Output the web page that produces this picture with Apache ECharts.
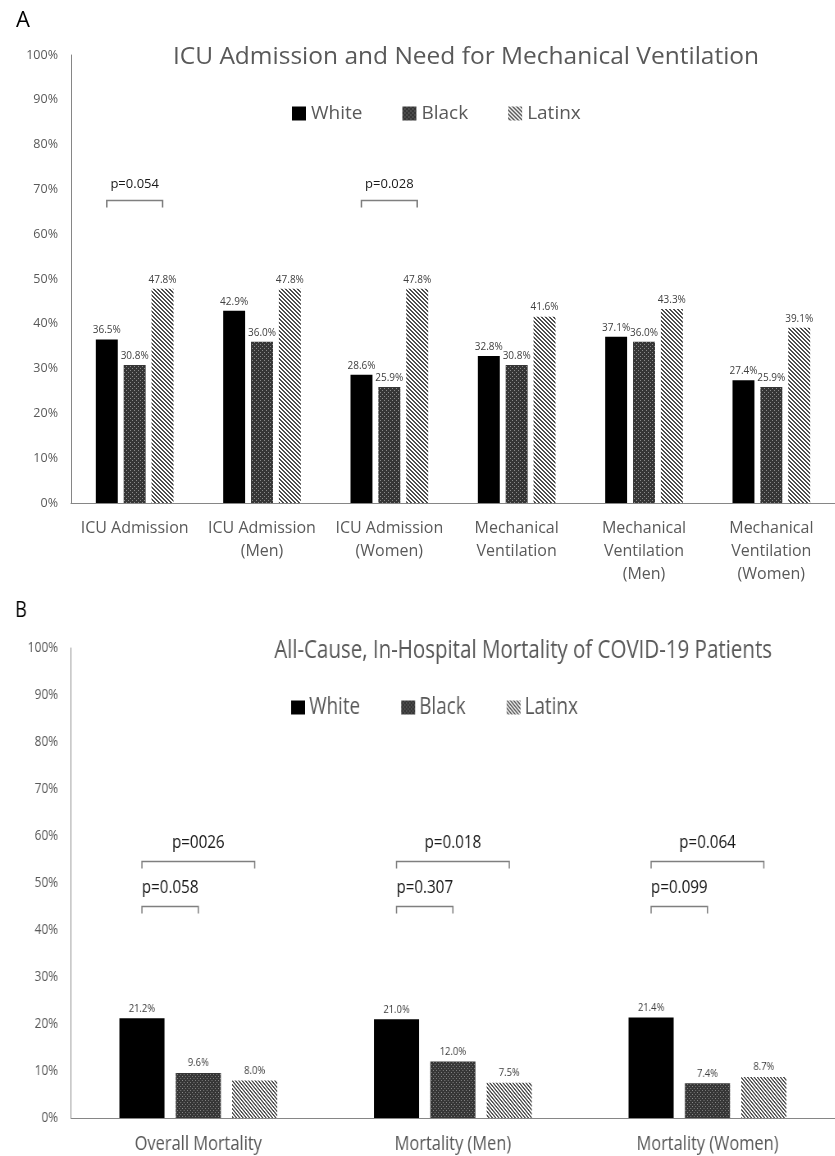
<!DOCTYPE html>
<html>
<head>
<meta charset="utf-8">
<script src="https://cdn.jsdelivr.net/npm/echarts@6/dist/echarts.min.js"></script>
<style>
html,body{margin:0;padding:0;background:#fff;overflow:hidden;}
#wrap{position:relative;width:835px;height:1156px;overflow:hidden;}
#chartA{position:absolute;left:0;top:0;width:835px;height:590px;}
#chartB{position:absolute;left:0;top:590px;height:566px;transform-origin:0 0;}
</style>
</head>
<body>
<div id="wrap">
  <div id="chartA"></div>
  <div id="chartB"></div>
</div>
<script>
// ---------- data ----------
const seriesNames = ['White', 'Black', 'Latinx'];

const categoriesA = ['ICU Admission', 'ICU Admission\n(Men)', 'ICU Admission\n(Women)', 'Mechanical\nVentilation', 'Mechanical\nVentilation\n(Men)', 'Mechanical\nVentilation\n(Women)'];
const whiteA  = [36.5, 42.9, 28.6, 32.8, 37.1, 27.4];
const blackA  = [30.8, 36.0, 25.9, 30.8, 36.0, 25.9];
const latinxA = [47.8, 47.8, 47.8, 41.6, 43.3, 39.1];

const categoriesB = ['Overall Mortality', 'Mortality (Men)', 'Mortality (Women)'];
const whiteB  = [21.2, 21.0, 21.4];
const blackB  = [9.6, 12.0, 7.4];
const latinxB = [8.0, 7.5, 8.7];

const yMin = 0, yMax = 100, yInterval = 10;

// brackets: [category index, from bar, to bar, bracket level (%), text level (%), text]
const bracketsA = [
  [0, 0, 2, 67.6, 71.2, 'p=0.054'],
  [2, 0, 2, 67.6, 71.2, 'p=0.028']
];
const bracketsB = [
  [0, 0, 2, 54.7, 58.5, 'p=0026'],
  [0, 0, 1, 45.1, 49.0, 'p=0.058'],
  [1, 0, 2, 54.7, 58.5, 'p=0.018'],
  [1, 0, 1, 45.1, 49.0, 'p=0.307'],
  [2, 0, 2, 54.7, 58.5, 'p=0.064'],
  [2, 0, 1, 45.1, 49.0, 'p=0.099']
];

// ---------- styles ----------
const font = "'Open Sans', 'Noto Sans', sans-serif";
const gray = '#595959';
const squeezeB = 0.82;               // panel B is horizontally condensed in the original
const elB = document.getElementById('chartB');
elB.style.width = (835 / squeezeB) + 'px';
elB.style.transform = 'scaleX(' + squeezeB + ')';
const sx = v => v / squeezeB;        // panel-B horizontal offsets, pre-squeeze

function dotsPattern() {
  const c = document.createElement('canvas');
  c.width = 4; c.height = 4;
  const g = c.getContext('2d');
  g.fillStyle = '#363636'; g.fillRect(0, 0, 4, 4);
  g.fillStyle = '#8a8a8a';
  g.fillRect(0, 0, 1, 1);
  g.fillRect(2, 2, 1, 1);
  return c;
}
function stripePattern() {
  const c = document.createElement('canvas');
  c.width = 4; c.height = 4;
  const g = c.getContext('2d');
  g.fillStyle = '#ffffff'; g.fillRect(0, 0, 4, 4);
  g.fillStyle = '#4d4d4d';
  for (let y = 0; y < 4; y++) {
    for (let x = 0; x < 4; x++) {
      const d = ((x - y) % 4 + 4) % 4;
      if (d === 0 || d === 1) g.fillRect(x, y, 1, 1);
    }
  }
  return c;
}
const fills = [
  '#000000',
  { image: dotsPattern(), repeat: 'repeat' },
  { image: stripePattern(), repeat: 'repeat' }
];

const gapA = { cat: 0.39, bar: 0.27 };
const gapB = { cat: 0.38, bar: 0.25 };

function barSeries(name, data, idx, gaps, labelSize) {
  return {
    type: 'bar', name: name, data: data,
    barGap: (gaps.bar * 100) + '%', barCategoryGap: (gaps.cat * 100) + '%',
    itemStyle: { color: fills[idx] },
    label: {
      show: true, position: 'top', distance: 4,
      formatter: p => p.value.toFixed(1) + '%',
      fontSize: labelSize, fontFamily: font, color: '#404040'
    },
    emphasis: { disabled: true }
  };
}

function bracketSeries(list, gaps, fontSize, tick) {
  return {
    type: 'custom',
    data: list.map(b => [b[0], b[1], b[2], b[3], b[4]]),
    encode: { x: 0, y: 3 },
    silent: true, z: 5,
    renderItem: function (params, api) {
      const b = list[params.dataIndex];
      const cat = api.value(0);
      const base = api.coord([cat, api.value(3)]);
      const yT = api.coord([cat, api.value(4)])[1];
      const band = api.size([1, 0])[0];
      const w = band * (1 - gaps.cat) / (3 + 2 * gaps.bar);
      const step = w * (1 + gaps.bar);
      const first = base[0] - (3 * w + 2 * gaps.bar * w) / 2 + w / 2;
      const xa = first + api.value(1) * step;
      const xb = first + api.value(2) * step;
      const y = Math.round(base[1]) + 0.5;
      return {
        type: 'group',
        children: [
          { type: 'polyline',
            shape: { points: [[xa, y + tick], [xa, y], [xb, y], [xb, y + tick]] },
            style: { stroke: '#7f7f7f', lineWidth: 1.5, fill: null } },
          { type: 'text',
            style: { text: b[5], x: (xa + xb) / 2, y: yT, align: 'center', verticalAlign: 'middle',
                     fontSize: fontSize, fontFamily: font, fill: '#1a1a1a' } }
        ]
      };
    }
  };
}

function yAxis(size, margin) {
  return {
    type: 'value', min: yMin, max: yMax, interval: yInterval,
    axisLine: { show: true, lineStyle: { color: '#868686', width: 1 } },
    axisTick: { show: false }, splitLine: { show: false },
    axisLabel: { formatter: '{value}%', fontSize: size, fontFamily: font, color: gray, margin: margin }
  };
}
function xAxis(cats, fontSize, margin, lh) {
  return {
    type: 'category', data: cats,
    axisLine: { show: true, lineStyle: { color: '#868686', width: 1 } },
    axisTick: { show: false },
    axisLabel: { interval: 0, fontSize: fontSize, fontFamily: font, color: gray, margin: margin, lineHeight: lh }
  };
}

// ---------- panel A ----------
const chartA = echarts.init(document.getElementById('chartA'), null, { renderer: 'canvas' });
chartA.setOption({
  animation: false,
  backgroundColor: '#ffffff',
  title: [
    { text: 'A', left: 11, top: 5, textStyle: { fontSize: 22, fontWeight: 'normal', fontFamily: font, color: '#000' } },
    { text: 'ICU Admission and Need for Mechanical Ventilation', left: 461, top: 40, textAlign: 'center',
      textStyle: { fontSize: 24.5, fontWeight: 'normal', fontFamily: font, color: gray } }
  ],
  legend: {
    data: seriesNames, left: 287, top: 99, itemWidth: 14, itemHeight: 14, itemGap: 40,
    icon: 'rect', textStyle: { fontSize: 19, fontFamily: font, color: gray },
    selectedMode: false
  },
  grid: { left: 71, right: 0, top: 55, height: 448 },
  xAxis: xAxis(categoriesA, 16, 14, 23),
  yAxis: yAxis(12.5, 13),
  series: [
    barSeries('White', whiteA, 0, gapA, 10),
    barSeries('Black', blackA, 1, gapA, 10),
    barSeries('Latinx', latinxA, 2, gapA, 10),
    bracketSeries(bracketsA, gapA, 13, 7)
  ]
});

// ---------- panel B (drawn wide, then condensed horizontally) ----------
const chartB = echarts.init(elB, null, { renderer: 'canvas' });
chartB.setOption({
  animation: false,
  backgroundColor: '#ffffff',
  title: [
    { text: 'B', left: sx(11), top: 5, textStyle: { fontSize: 22, fontWeight: 'normal', fontFamily: font, color: '#000' } },
    { text: 'All-Cause, In-Hospital Mortality of COVID-19 Patients', left: sx(519), top: 43, textAlign: 'center',
      textStyle: { fontSize: 25, fontWeight: 'normal', fontFamily: font, color: gray } }
  ],
  legend: {
    data: seriesNames, left: sx(287), top: 101, itemWidth: 17, itemHeight: 14, itemGap: 50,
    icon: 'rect', textStyle: { fontSize: 23, fontFamily: font, color: gray },
    selectedMode: false
  },
  grid: { left: sx(71), right: 0, top: 58, height: 472 },
  xAxis: xAxis(categoriesB, 20, 14, 24),
  yAxis: yAxis(14.5, sx(13)),
  series: [
    barSeries('White', whiteB, 0, gapB, 11.5),
    barSeries('Black', blackB, 1, gapB, 11.5),
    barSeries('Latinx', latinxB, 2, gapB, 11.5),
    bracketSeries(bracketsB, gapB, 18.5, 7)
  ]
});
</script>
</body>
</html>
